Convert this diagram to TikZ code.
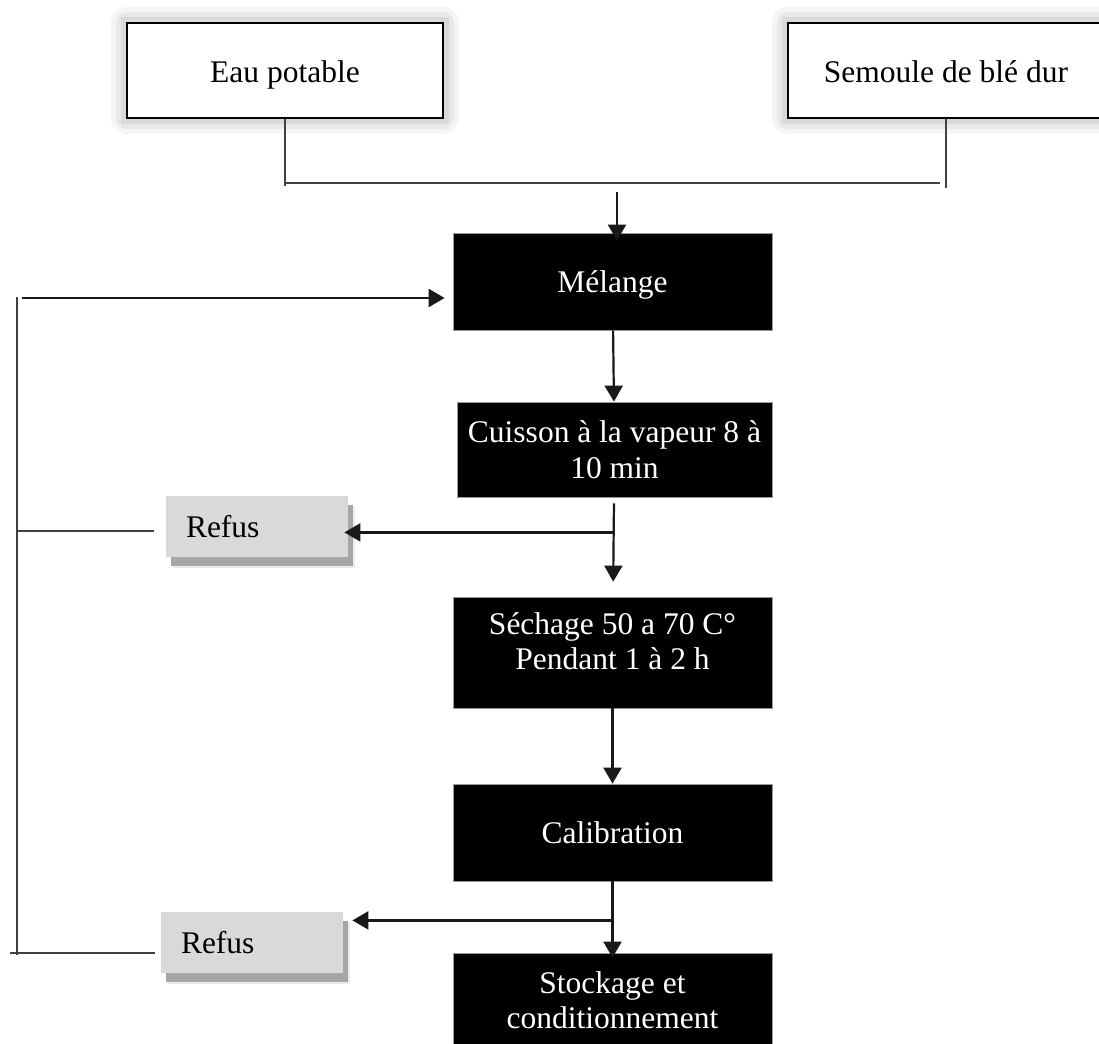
\documentclass[tikz,border=0pt]{standalone}
\usepackage{fontspec}
\setmainfont{Liberation Serif}
\usetikzlibrary{arrows.meta}
\usetikzlibrary{calc}
\usetikzlibrary{shadows}

\tikzset{
  inbox/.style={draw=black, line width=1.25pt, fill=white, minimum width=158pt, minimum height=47.5pt,
    text height=12.5pt, text depth=0pt,
    preaction={draw=black!4, line width=16pt, line join=round},
    preaction={draw=black!9, line width=11pt, line join=round},
    preaction={draw=black!15, line width=6pt}},
  stepbox/.style={fill=black, draw=black!40, line width=0.4pt, text=white, minimum width=159.5pt, minimum height=48.5pt,
    text depth=0pt, align=center},
  refusbox/.style={fill=black!15, minimum width=91pt, minimum height=30.5pt, text width=71pt, inner xsep=10pt, align=left,
    drop shadow={shadow xshift=3.5pt, shadow yshift=-5.5pt, fill=black!8, opacity=1},
    drop shadow={shadow xshift=2.5pt, shadow yshift=-4.5pt, fill=black!35, opacity=1}},
  arr/.style={line width=1.1pt, black!90, -{Triangle[width=9pt,length=8pt]}},
  link/.style={line width=0.7pt, black!75},
}

\begin{document}
\begin{tikzpicture}[x=0.5pt, y=-0.5pt, font=\fontsize{15.75}{17.3}\selectfont]
    \useasboundingbox (0,0) rectangle (1099,1044);
    \fill[white] (0,0) rectangle (1099,1044);
    \clip (0,0) rectangle (1099,1044);

    \node[inbox] (eau) at (285,70.5) {Eau potable};
    \node[inbox] (semoule) at (946,70.5) {Semoule de blé dur};

    \node[stepbox] (melange) at (612.5,281.5) {Mélange};
    \node[stepbox, minimum width=157.5pt, minimum height=47.5pt] (cuisson) at (614.5,449.5) {Cuisson à la vapeur 8 à\\[0.6pt]10 min};
    \node[stepbox, minimum height=55.5pt, text depth=11.5pt] (sechage) at (612.5,652.5) {Séchage 50 a 70 C°\\Pendant 1 à 2 h};
    \node[stepbox] (calib) at (612.5,832.5) {Calibration};
    \node[stepbox, minimum height=47pt] (stock) at (612.5,1000) {Stockage et\\conditionnement};

    \node[refusbox] (refus1) at (257,526.5) {Refus};
    \node[refusbox] (refus2) at (252,942.5) {Refus};

    \coordinate (eaufoot) at (285,186);
    \coordinate (semfoot) at (946,188);
    \coordinate (joinL) at (285,183);
    \coordinate (joinR) at (940,183);
    \coordinate (feed) at (617,192);

    \draw[link] (eau.south) -- (eaufoot);
    \draw[link] (semoule.south) -- (semfoot);
    \draw[link] (joinL) -- (joinR);
    \draw[arr, shorten >=-4pt] (feed) -- (feed |- melange.north);

    \draw[arr] (melange) -- (cuisson);
    \draw[arr, shorten <=3pt, shorten >=7.5pt] (cuisson) -- (sechage);
    \draw[arr] (sechage) -- (calib);
    \draw[arr, shorten >=-2.5pt] (calib) -- (stock);

    \coordinate (tap1) at ($(cuisson.south)+(0,35)$);
    \coordinate (tap2) at ($(calib.south)+(0,39)$);
    \draw[arr, shorten >=-2pt] (tap1) -- (tap1 -| refus1.east);
    \draw[arr, shorten >=4.5pt] (tap2) -- (tap2 -| refus2.east);

    \coordinate (loopT) at (17,297);
    \coordinate (loopB) at (17,955);
    \coordinate (loopA) at (22,298);
    \coordinate (loopM) at (17,531);
    \coordinate (loopN) at (10,953);

    \draw[link, line width=1pt] (loopT) -- (loopB);
    \draw[arr, shorten >=4pt] (loopA) -- (loopA -| melange.west);
    \draw[link, shorten >=6pt] (loopM) -- (loopM -| refus1.west);
    \draw[link, shorten >=3pt] (loopN) -- (loopN -| refus2.west);

\end{tikzpicture}
\end{document}
